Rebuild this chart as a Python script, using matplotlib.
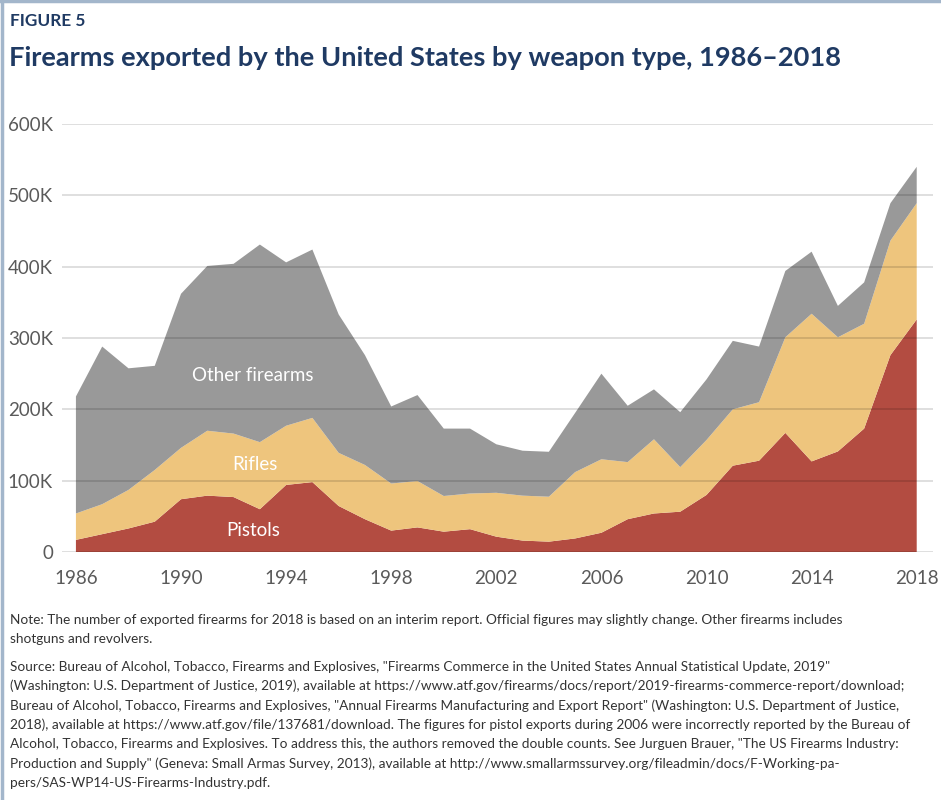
import numpy as np
import matplotlib
matplotlib.use("Agg")
import matplotlib.pyplot as plt
from matplotlib.lines import Line2D
from matplotlib.ticker import FuncFormatter

years = list(range(1986, 2019))
pistols = [17, 25, 33, 42.5, 74, 79, 77, 60, 94, 98, 64.5, 46, 30, 34.5, 28.5, 32, 21.5,
           16, 14.5, 19, 27, 46, 54, 56.5, 80, 121, 128, 167, 127, 141, 173, 276, 326]
rifles = [37, 42, 54, 72.5, 72, 91, 89, 94, 83, 90, 74.5, 76, 66, 65, 50, 50, 61.5,
          63, 63, 93, 103, 80, 104, 62.5, 77, 79, 82, 134, 207, 160, 147, 160.5, 163]
other = [164, 221, 170.5, 146, 216, 231, 238, 277, 229, 236, 194, 154, 108, 120.5, 94.5,
         91, 68, 63, 63, 83, 120, 79, 70, 77, 85, 96, 78, 93, 87, 44, 58, 52.5, 51]
series_labels = ["Pistols", "Rifles", "Other firearms"]
x_ticks = [1986, 1990, 1994, 1998, 2002, 2006, 2010, 2014, 2018]
y_ticks = [0, 100000, 200000, 300000, 400000, 500000, 600000]

note_lines = [
    "Note: The number of exported firearms for 2018 is based on an interim report. Official figures may slightly change. Other firearms includes",
    "shotguns and revolvers.",
]
source_lines = [
    "Source: Bureau of Alcohol, Tobacco, Firearms and Explosives, \"Firearms Commerce in the United States Annual Statistical Update, 2019\"",
    "(Washington: U.S. Department of Justice, 2019), available at https://www.atf.gov/firearms/docs/report/2019-firearms-commerce-report/download;",
    "Bureau of Alcohol, Tobacco, Firearms and Explosives, \"Annual Firearms Manufacturing and Export Report\" (Washington: U.S. Department of Justice,",
    "2018), available at https://www.atf.gov/file/137681/download. The figures for pistol exports during 2006 were incorrectly reported by the Bureau of",
    "Alcohol, Tobacco, Firearms and Explosives. To address this, the authors removed the double counts. See Jurguen Brauer, \"The US Firearms Industry:",
    "Production and Supply\" (Geneva: Small Armas Survey, 2013), available at http://www.smallarmssurvey.org/fileadmin/docs/F-Working-pa-",
    "pers/SAS-WP14-US-Firearms-Industry.pdf.",
]

colors = ["#B34C41", "#EEC57D", "#999999"]
FONT = "Lato"
W, H = 941, 800
fig = plt.figure(figsize=(W / 100, H / 100), dpi=100)

def fx(px):
    return px / W

def fy(py):
    return 1 - py / H

ax = fig.add_axes([fx(62), fy(552), fx(933) - fx(62), fy(124) - fy(552)])
vals = [np.array(pistols) * 1000, np.array(rifles) * 1000, np.array(other) * 1000]
ax.stackplot(years, *vals, colors=colors, linewidth=0)

ax.set_xlim(1985.47, 2018.62)
ax.set_ylim(0, 600000)
ax.set_yticks(y_ticks)
ax.set_xticks(x_ticks)
ax.yaxis.set_major_formatter(FuncFormatter(lambda v, p: "0" if v == 0 else f"{int(v/1000)}K"))
ax.grid(axis="y", color="black", alpha=0.16, linewidth=1.1)
ax.grid(axis="x", visible=False)
ax.set_axisbelow(False)
for s in ax.spines.values():
    s.set_visible(False)
ax.tick_params(length=0, labelsize=13.5, labelcolor="#5a5a5a")
ax.tick_params(axis="y", pad=6.5)
ax.tick_params(axis="x", pad=13)
for lab in ax.get_xticklabels() + ax.get_yticklabels():
    lab.set_fontfamily(FONT)

ax.text(1992.73, 248000, series_labels[2], color="white", fontsize=13.5, ha="center", va="center", family=FONT)
ax.text(1992.8, 123000, series_labels[1], color="white", fontsize=13.5, ha="center", va="center", family=FONT)
ax.text(1992.73, 29500, series_labels[0], color="white", fontsize=13.5, ha="center", va="center", family=FONT)

navy = "#1F3A63"
fig.text(fx(10), fy(21), "FIGURE 5", fontsize=12.4, fontweight="bold", color=navy, ha="left", va="center", family=FONT)
fig.text(fx(9), fy(58), "Firearms exported by the United States by weapon type, 1986–2018",
         fontsize=19.6, fontweight="bold", color=navy, ha="left", va="center", family=FONT)

# footnote lines: reference right edges (px) used to pick a common size that fits
ref_right = [884, 165, 869, 936, 926, 932, 921, 836, 270]
all_lines = note_lines + source_lines
line_y = [620, 639, 667, 686, 706, 725, 744, 764, 783]
base = 10.3
txts = []
for s, y in zip(all_lines, line_y):
    txts.append(fig.text(fx(10), fy(y), s, fontsize=base, color="#333333", ha="left", va="center", family=FONT))
fig.canvas.draw()
r = fig.canvas.get_renderer()
ratios = []
for t, rr in zip(txts, ref_right):
    w = t.get_window_extent(r).width
    ratios.append((rr - 10) / w)
size = base * min(min(ratios), 1.0)
for t in txts:
    t.set_fontsize(size)

border = "#A3B6CB"
fig.add_artist(Line2D([0.0016, 0.0016], [0, 1], transform=fig.transFigure, color=border, lw=2.5))
fig.add_artist(Line2D([0, 1], [0.9984, 0.9984], transform=fig.transFigure, color=border, lw=2.5))

fig.savefig("out.png", dpi=100)
